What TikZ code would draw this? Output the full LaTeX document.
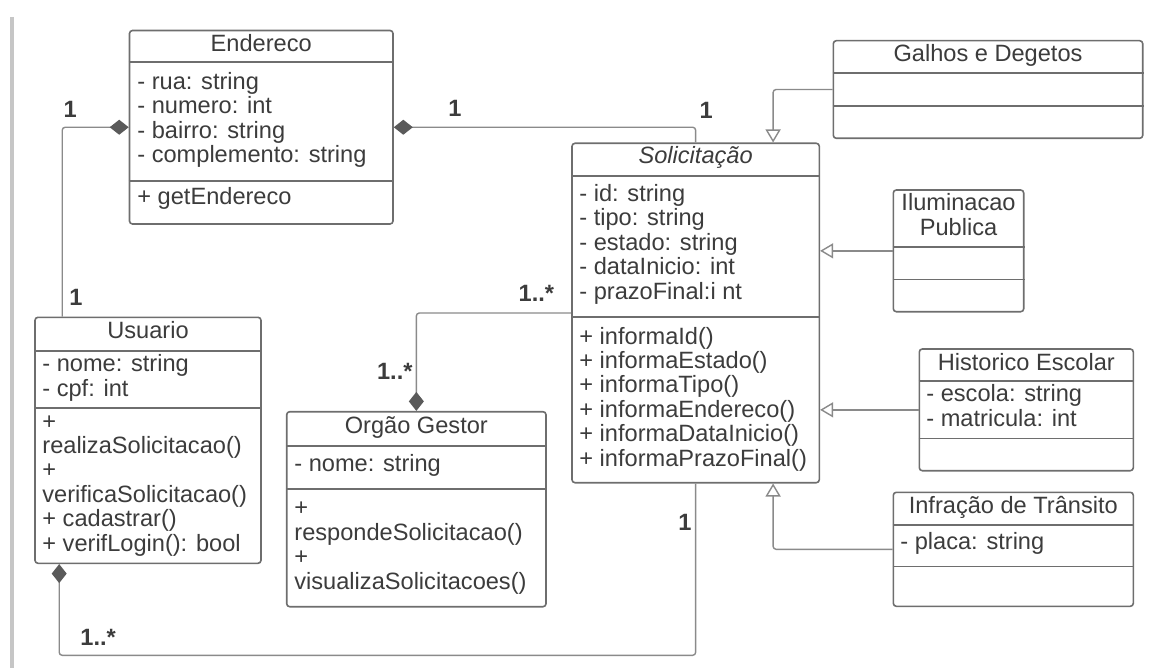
\documentclass[tikz,border=0pt]{standalone}
\usepackage{fontspec}
\setmainfont{Liberation Sans}
\usetikzlibrary{arrows.meta,calc,fit}

\definecolor{umlline}{HTML}{6E6E6E}
\definecolor{umltext}{HTML}{3C3C3C}
\definecolor{linkline}{HTML}{8A8A8A}
\definecolor{diamondfill}{HTML}{5A5A5A}

\tikzset{
  classbox/.style={draw=umlline, line width=0.8pt, rounded corners=1.5pt, inner sep=0pt, fill=white},
  divider/.style={draw=umlline, line width=0.8pt},
  classname/.style={anchor=base, inner sep=0pt, align=center, text=umltext, font=\fontsize{11.8}{12.2}\selectfont},
  members/.style={anchor=base west, inner sep=0pt, align=left, text=umltext, font=\fontsize{11.8}{12.2}\selectfont},
  mult/.style={anchor=base west, inner sep=0pt, text=umltext, font=\fontsize{11.8}{12.2}\selectfont\bfseries},
  link/.style={draw=linkline, line width=0.7pt, rounded corners=1.5pt},
  comp/.style={link, arrows={Diamond[length=9.5pt,width=7.5pt,fill=diamondfill,color=diamondfill]-}},
  compend/.style={link, arrows={-Diamond[length=9.5pt,width=7.5pt,fill=diamondfill,color=diamondfill]}},
  gen/.style={link, arrows={-Triangle[open,length=6.5pt,width=7.5pt,fill=white]}},
}

\begin{document}
\begin{tikzpicture}[x=0.5pt,y=-0.5pt]

  \useasboundingbox (0,0) rectangle (1155,668);
  % page edge
  \draw[gray!45, line width=1.6pt] (12,17) -- (12,668);

  % Endereco (multi-line texts sit on the baseline of their last line)
  \node[classbox, fit={(129.5,30.5) (393,224)}] (endereco) {};
  \node[classname] (endereco-t) at (endereco.north |- 0,52) {Endereco};
  \draw[divider] (endereco.west |- 0,62) -- (endereco.east |- 0,62);
  \node[members] (endereco-a) at (137,162.5) {- rua: string\\- numero: int\\- bairro: string\\- complemento: string};
  \draw[divider] (endereco.west |- 0,181) -- (endereco.east |- 0,181);
  \node[members] (endereco-m) at (137,205) {+ getEndereco};

  % Galhos e Degetos
  \node[classbox, fit={(833.3,40.7) (1142.7,138.3)}] (galhos) {};
  \node[classname] (galhos-t) at (galhos.north |- 0,62) {Galhos e Degetos};
  \draw[divider] (galhos.west |- 0,73.3) -- (galhos.east |- 0,73.3);
  \draw[divider] (galhos.west |- 0,106) -- (galhos.east |- 0,106);

  % Solicitacao
  \node[classbox, fit={(572,143.3) (819.3,482.7)}] (solicitacao) {};
  \node[classname] (solicitacao-t) at (solicitacao.north |- 0,164) {\itshape Solicitação};
  \draw[divider] (solicitacao.west |- 0,176) -- (solicitacao.east |- 0,176);
  \node[members] (solicitacao-a) at (579,299) {- id: string\\- tipo: string\\- estado: string\\- dataInicio: int\\- prazoFinal:i nt};
  \draw[divider] (solicitacao.west |- 0,317) -- (solicitacao.east |- 0,317);
  \node[members] (solicitacao-m) at (579,466) {+ informaId()\\+ informaEstado()\\+ informaTipo()\\+ informaEndereco()\\+ informaDataInicio()\\+ informaPrazoFinal()};

  % Iluminacao Publica
  \node[classbox, fit={(893.3,190) (1023.7,311.7)}] (iluminacao) {};
  \node[classname] (iluminacao-t) at (iluminacao.north |- 0,235) {Iluminacao\\Publica};
  \draw[divider] (iluminacao.west |- 0,246.7) -- (iluminacao.east |- 0,246.7);
  \draw[divider] (iluminacao.west |- 0,279.3) -- (iluminacao.east |- 0,279.3);

  % Historico Escolar
  \node[classbox, fit={(919.3,349) (1133.3,470.7)}] (historico) {};
  \node[classname] (historico-t) at (historico.north |- 0,370) {Historico Escolar};
  \draw[divider] (historico.west |- 0,381) -- (historico.east |- 0,381);
  \node[members] (historico-a) at (926,426) {- escola: string\\- matricula: int};
  \draw[divider] (historico.west |- 0,438.3) -- (historico.east |- 0,438.3);

  % Infracao de Transito
  \node[classbox, fit={(893.3,492.3) (1133.3,606.3)}] (infracao) {};
  \node[classname] (infracao-t) at (infracao.north |- 0,513.5) {Infração de Trânsito};
  \draw[divider] (infracao.west |- 0,524.7) -- (infracao.east |- 0,524.7);
  \node[members] (infracao-a) at (900,549.7) {- placa: string};
  \draw[divider] (infracao.west |- 0,566.3) -- (infracao.east |- 0,566.3);

  % Usuario
  \node[classbox, fit={(35,317.3) (261,563.3)}] (usuario) {};
  \node[classname] (usuario-t) at (usuario.north |- 0,338) {Usuario};
  \draw[divider] (usuario.west |- 0,350.7) -- (usuario.east |- 0,350.7);
  \node[members] (usuario-a) at (42,396) {- nome: string\\- cpf: int};
  \draw[divider] (usuario.west |- 0,407.7) -- (usuario.east |- 0,407.7);
  \node[members] (usuario-m) at (42,551) {+\\realizaSolicitacao()\\+\\verificaSolicitacao()\\+ cadastrar()\\+ verifLogin(): bool};

  % Orgao Gestor
  \node[classbox, fit={(286.7,411.7) (546,606.7)}] (orgao) {};
  \node[classname] (orgao-t) at (orgao.north |- 0,433) {Orgão Gestor};
  \draw[divider] (orgao.west |- 0,445.7) -- (orgao.east |- 0,445.7);
  \node[members] (orgao-a) at (294,471) {- nome: string};
  \draw[divider] (orgao.west |- 0,488.7) -- (orgao.east |- 0,488.7);
  \node[members] (orgao-m) at (294,589) {+\\respondeSolicitacao()\\+\\visualizaSolicitacoes()};

  % associations
  \coordinate (bottomrun) at (0,655.3);
  \draw[comp] (endereco.west) -| ($(usuario.north west)+(28,0)$);
  \draw[comp] (endereco.east) -| (solicitacao.north);
  \draw[compend] (solicitacao.west) -| (orgao.north);
  \draw[comp] ($(usuario.south west)+(25,0)$) |- (solicitacao.south |- bottomrun) -- (solicitacao.south);

  % generalizations
  \draw[gen] (galhos.west) -| ($(solicitacao.north east)+(-47,0)$);
  \draw[gen] (iluminacao.west) -- (solicitacao.east |- iluminacao.west);
  \draw[gen] (historico.west) -- (solicitacao.east |- historico.west);
  \draw[gen] (infracao.west) -| ($(solicitacao.south east)+(-47,0)$);

  % multiplicities
  \node[mult] (m-ue) at (63.3,117.3) {1};
  \node[mult] (m-eu) at (69,305) {1};
  \node[mult] (m-es) at (448,116.7) {1};
  \node[mult] (m-se) at (699.3,119) {1};
  \node[mult] (m-so) at (518.3,301.7) {1..*};
  \node[mult] (m-os) at (376.7,379.3) {1..*};
  \node[mult] (m-su) at (678,530) {1};
  \node[mult] (m-us) at (80,645.7) {1..*};

\end{tikzpicture}
\end{document}
